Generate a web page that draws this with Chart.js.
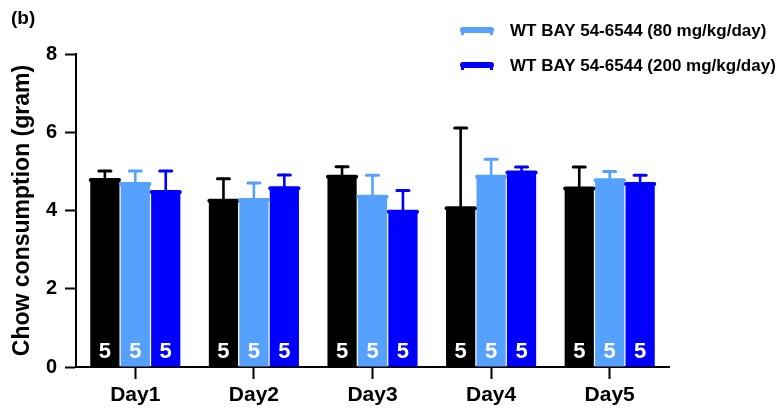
<!DOCTYPE html>
<html>
<head>
<meta charset="utf-8">
<script src="https://cdn.jsdelivr.net/npm/chart.js@4/dist/chart.umd.min.js"></script>
<style>
  html, body { margin: 0; padding: 0; background: #fff; }
  #wrap { width: 782px; height: 412px; position: relative; }
</style>
</head>
<body>
<div id="wrap"><canvas id="c" width="782" height="412"></canvas></div>
<script>
// Daily chow intake (grams), mean with upper SD, per group
const days = ['Day1', 'Day2', 'Day3', 'Day4', 'Day5'];

const wtMean      = [4.78, 4.25, 4.86, 4.06, 4.56];
const wtSD        = [0.23, 0.56, 0.26, 2.05, 0.55];
const bay80Mean   = [4.68, 4.27, 4.35, 4.86, 4.77];
const bay80SD     = [0.33, 0.43, 0.55, 0.45, 0.23];
const bay200Mean  = [4.47, 4.57, 3.97, 4.97, 4.68];
const bay200SD    = [0.54, 0.34, 0.54, 0.14, 0.22];

// animals per bar
const wtN     = [5, 5, 5, 5, 5];
const bay80N  = [5, 5, 5, 5, 5];
const bay200N = [5, 5, 5, 5, 5];

const yTicks = [0, 2, 4, 6, 8];

const FONT = "'Liberation Sans', Arial, Helvetica, sans-serif";

// Error bars, bar-top caps and n labels, drawn from each bar element
const barExtras = {
  id: 'barExtras',
  afterDatasetsDraw(chart) {
    const ctx = chart.ctx;
    const yScale = chart.scales.y;
    chart.data.datasets.forEach((ds, di) => {
      const meta = chart.getDatasetMeta(di);
      meta.data.forEach((bar, i) => {
        const w = bar.width;
        const x = bar.x;
        const top = bar.y;
        const errTop = yScale.getPixelForValue(ds.data[i] + ds.errors[i]);
        ctx.save();
        ctx.strokeStyle = ds.backgroundColor;
        ctx.lineCap = 'round';
        // whisker
        ctx.lineWidth = 2.6;
        ctx.beginPath();
        ctx.moveTo(x, top);
        ctx.lineTo(x, errTop);
        ctx.stroke();
        // whisker cap
        ctx.lineWidth = 3;
        ctx.beginPath();
        ctx.moveTo(x - 6, errTop);
        ctx.lineTo(x + 6, errTop);
        ctx.stroke();
        // bar top cap
        ctx.lineWidth = 4;
        ctx.beginPath();
        ctx.moveTo(x - w / 2 + 0.5, top);
        ctx.lineTo(x + w / 2 - 0.5, top);
        ctx.stroke();
        // n label
        ctx.fillStyle = '#ffffff';
        ctx.font = 'bold 22px ' + FONT;
        ctx.textAlign = 'center';
        ctx.textBaseline = 'alphabetic';
        ctx.fillText(String(ds.n[i]), x, yScale.bottom - 9);
        ctx.restore();
      });
    });
  }
};

// Panel letter and legend for the treated groups
const panelDecor = {
  id: 'panelDecor',
  afterDraw(chart) {
    const ctx = chart.ctx;
    ctx.save();
    ctx.fillStyle = '#000';
    ctx.font = 'bold 19px ' + FONT;
    ctx.textAlign = 'left';
    ctx.textBaseline = 'middle';
    ctx.fillText('(b)', 11, 19);

    const rows = chart.data.datasets.filter(d => d.inLegend);
    rows.forEach((ds, r) => {
      const y = 30 + r * 35;
      ctx.strokeStyle = ds.backgroundColor;
      ctx.fillStyle = ds.backgroundColor;
      ctx.lineCap = 'round';
      ctx.lineWidth = 6;
      ctx.beginPath();
      ctx.moveTo(463, y);
      ctx.lineTo(491, y);
      ctx.stroke();
      ctx.fillRect(461, y, 3, 5);
      ctx.fillRect(490, y, 3, 5);
      ctx.fillStyle = '#000';
      ctx.font = 'bold 17px ' + FONT;
      ctx.textBaseline = 'middle';
      ctx.fillText(ds.label, 510, y + 1);
    });
    ctx.restore();
  }
};

new Chart(document.getElementById('c'), {
  type: 'bar',
  data: {
    labels: days,
    datasets: [
      { label: 'WT', data: wtMean, errors: wtSD, n: wtN,
        backgroundColor: '#000000', inLegend: false },
      { label: 'WT BAY 54-6544 (80 mg/kg/day)', data: bay80Mean, errors: bay80SD, n: bay80N,
        backgroundColor: '#56A0FE', inLegend: true },
      { label: 'WT BAY 54-6544 (200 mg/kg/day)', data: bay200Mean, errors: bay200SD, n: bay200N,
        backgroundColor: '#0000FF', inLegend: true }
    ]
  },
  options: {
    responsive: false,
    animation: false,
    devicePixelRatio: 1,
    layout: { padding: { top: 54, right: 113, left: 0, bottom: 0 } },
    datasets: {
      bar: { categoryPercentage: 0.77, barPercentage: 0.96, borderWidth: 0 }
    },
    plugins: {
      legend: { display: false },
      tooltip: { enabled: false },
      title: { display: false }
    },
    scales: {
      x: {
        offset: true,
        grid: {
          offset: false,
          drawOnChartArea: false,
          tickLength: 12,
          tickColor: '#000',
          tickWidth: 2
        },
        border: { display: true, color: '#000', width: 2 },
        ticks: {
          color: '#000',
          font: { family: FONT, size: 21, weight: 'bold' },
          padding: 4,
          maxRotation: 0
        },
        afterFit(scale) { scale.height = 45; }
      },
      y: {
        min: 0,
        max: 8,
        afterBuildTicks(scale) { scale.ticks = yTicks.map(v => ({ value: v })); },
        grid: {
          drawOnChartArea: false,
          tickLength: 11,
          tickColor: '#000',
          tickWidth: 2
        },
        border: { display: true, color: '#000', width: 2 },
        ticks: {
          color: '#000',
          font: { family: FONT, size: 20, weight: 'bold' },
          padding: 8
        },
        title: {
          display: true,
          text: 'Chow consumption (gram)',
          color: '#000',
          font: { family: FONT, size: 23, weight: 'bold' },
          padding: { top: 9, bottom: 0 }
        },
        afterFit(scale) { scale.width = 76; }
      }
    }
  },
  plugins: [barExtras, panelDecor]
});
</script>
</body>
</html>
